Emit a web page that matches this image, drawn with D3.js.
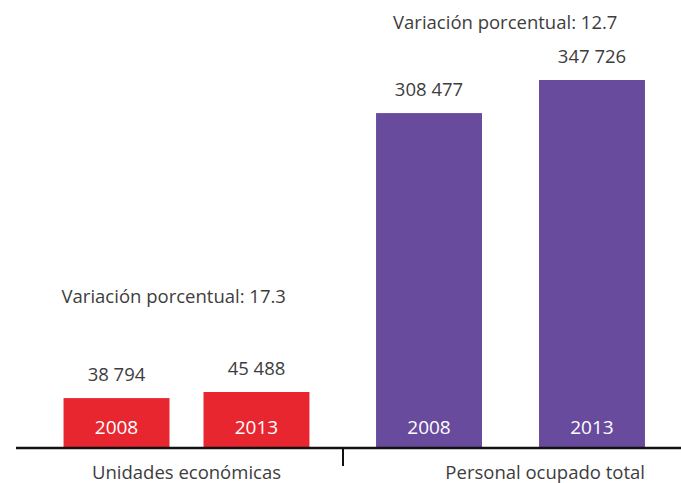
<!DOCTYPE html>
<html>
<head>
<meta charset="utf-8">
<script src="https://cdn.jsdelivr.net/npm/d3@7"></script>
<style>
  body { margin: 0; background: #fff; }
  svg { display: block; }
  text { font-family: "Open Sans", sans-serif; fill: #3d3d3d; }
</style>
</head>
<body>
<div class="chart"></div>
<script>
// Data
var groups = ["Unidades económicas", "Personal ocupado total"];
var years = ["2008", "2013"];
var unidades = [38794, 45488];
var personal = [308477, 347726];
var variacion = [17.3, 12.7];
var colors = ["#e8262f", "#684b9d"];

var width = 681, height = 483, baseline = 448;

var svg = d3.select(".chart").append("svg")
  .attr("width", width)
  .attr("height", height);

var fmt = function(v) { return d3.format(",")(v).replace(/,/g, " "); };

// outer scale for the two groups
var x0 = d3.scaleBand()
  .domain(groups)
  .range([24.5, 672.5])
  .padding(0);

// each group has its own inner spacing
var innerPad = [{inner: 0.243, outer: 0.279}, {inner: 0.35, outer: 0.169}];
// placement of the "variacion" note, per group
var notePos = [{dx: -2, dy: 89}, {dx: 17, dy: 51}];

// separate vertical scales, the picture does not share one
var yScales = [
  d3.scaleLinear().domain([-15900, 45488]).range([baseline, 392]),
  d3.scaleLinear().domain([-88700, 347726]).range([baseline, 80])
];

var series = [unidades, personal];

groups.forEach(function(gName, gi) {
  var x1 = d3.scaleBand()
    .domain(years)
    .range([x0(gName), x0(gName) + x0.bandwidth()])
    .paddingInner(innerPad[gi].inner)
    .paddingOuter(innerPad[gi].outer);
  var y = yScales[gi];
  var g = svg.append("g").attr("class", "group");

  series[gi].forEach(function(v, i) {
    var yr = years[i];
    g.append("rect")
      .attr("x", x1(yr))
      .attr("y", y(v))
      .attr("width", x1.bandwidth())
      .attr("height", baseline - y(v))
      .style("fill", colors[gi]);

    g.append("text")
      .attr("x", x1(yr) + x1.bandwidth() / 2)
      .attr("y", baseline - 14)
      .attr("text-anchor", "middle")
      .style("font-size", "19px")
      .style("fill", "#fff")
      .text(yr);

    g.append("text")
      .attr("x", x1(yr) + x1.bandwidth() / 2)
      .attr("y", y(v) - 17)
      .attr("text-anchor", "middle")
      .style("font-size", "18.5px")
      .text(fmt(v));
  });

  // variacion porcentual note
  var top = y(d3.max(series[gi]));
  g.append("text")
    .attr("x", x1(years[0]) + notePos[gi].dx)
    .attr("y", top - notePos[gi].dy)
    .style("font-size", "18.5px")
    .text("Variación porcentual: " + variacion[gi]);

  // category label
  g.append("text")
    .attr("x", gi == 0 ? x0(gName) + x0.bandwidth() / 2 : x1(years[1]) + x1.bandwidth())
    .attr("y", 478.5)
    .attr("text-anchor", gi == 0 ? "middle" : "end")
    .style("font-size", "18.5px")
    .text(gName);
});

// baseline and separator tick
svg.append("line")
  .attr("x1", 16).attr("x2", width)
  .attr("y1", baseline).attr("y2", baseline)
  .style("stroke", "#111")
  .style("stroke-width", 2.5);

svg.append("line")
  .attr("x1", 343).attr("x2", 343)
  .attr("y1", baseline).attr("y2", 466)
  .style("stroke", "#111")
  .style("stroke-width", 2);
</script>
</body>
</html>
